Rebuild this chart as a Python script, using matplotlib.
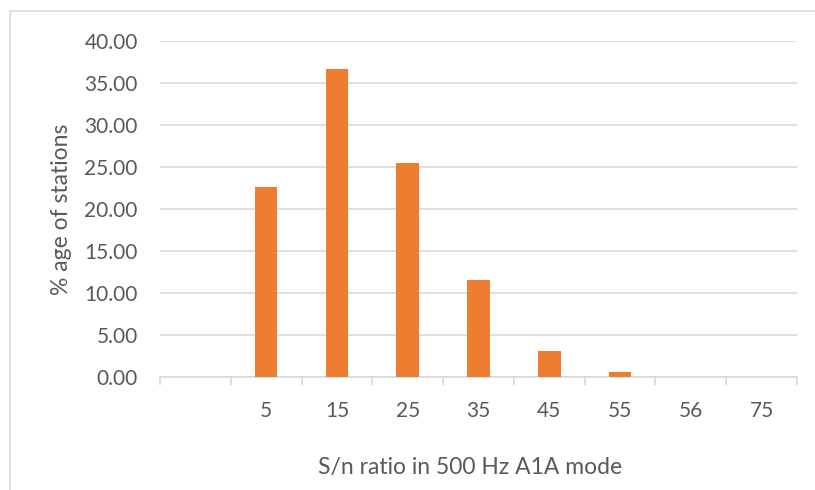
import matplotlib
matplotlib.use("Agg")
import matplotlib.pyplot as plt
from matplotlib.patches import Rectangle
from matplotlib.ticker import FixedLocator

categories = ["", "5", "15", "25", "35", "45", "55", "56", "75"]
values = [0, 22.65, 36.67, 25.48, 11.55, 3.1, 0.55, 0, 0]
yticks = [0, 5, 10, 15, 20, 25, 30, 35, 40]

plt.rcParams['font.family'] = ['Lato', 'DejaVu Sans']
txt = '#595959'
grid = '#d9d9d9'

W, H = 815, 490
fig = plt.figure(figsize=(W/100, H/100), dpi=100)
ax = fig.add_axes([160/W, 1-377/H, (797-160)/W, (377-40.7)/H])

x = list(range(len(categories)))
ax.bar(x, values, width=0.32, color='#ED7D31', zorder=3)

ax.set_xlim(-0.5, len(categories)-0.5)
ax.set_ylim(0, 40)
ax.set_yticks(yticks)
ax.set_yticklabels([f"{v:.2f}" for v in yticks])
ax.yaxis.grid(True, color=grid, linewidth=1.2, zorder=0)
ax.set_xticks(x)
ax.set_xticklabels(categories)
ax.xaxis.set_minor_locator(FixedLocator([i-0.5 for i in range(len(categories)+1)]))
ax.tick_params(axis='x', which='major', length=0, pad=17, labelsize=15, labelcolor=txt)
ax.tick_params(axis='x', which='minor', length=5.5, width=1.2, color=grid)
ax.tick_params(axis='y', length=0, pad=16, labelsize=15, labelcolor=txt)

for s in ['top', 'right', 'left']:
    ax.spines[s].set_visible(False)
ax.spines['bottom'].set_color(grid)
ax.spines['bottom'].set_linewidth(1.2)

fig.text(62/W, 1-209/H, "% age of stations", ha='center', va='center', rotation=90,
         fontsize=16.5, color=txt)
fig.text(470/W, 1-467/H, "S/n ratio in 500 Hz A1A mode", ha='center', va='center',
         fontsize=16.5, color=txt)

fig.patches.append(Rectangle((10/W, -0.1), 1.0, 1-11/H+0.1, transform=fig.transFigure,
                             fill=False, edgecolor=grid, linewidth=1.2))

fig.savefig("out.png", dpi=100, facecolor='white')
